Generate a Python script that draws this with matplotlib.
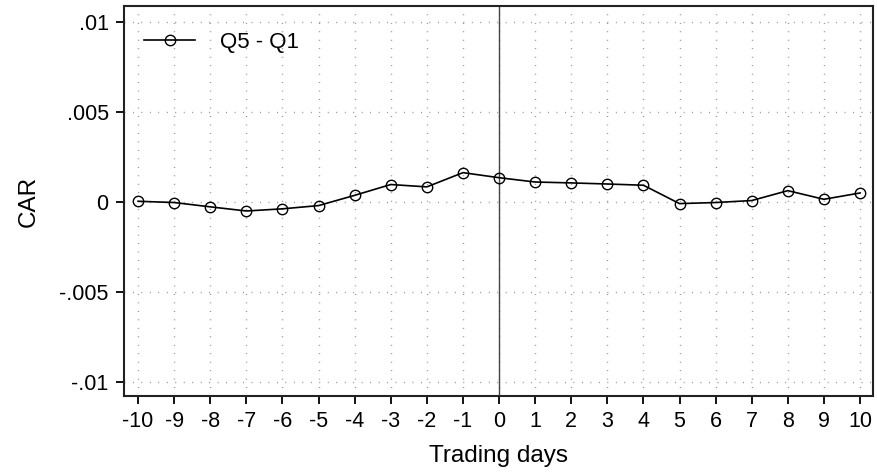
import matplotlib
matplotlib.use("Agg")
import matplotlib.pyplot as plt

plt.rcParams['font.family'] = ['Liberation Sans', 'DejaVu Sans']

days = list(range(-10, 11))
car = [0.00004, -0.00003, -0.00027, -0.0005, -0.00038, -0.0002, 0.00037, 0.00097,
       0.00084, 0.00163, 0.00135, 0.00111, 0.00106, 0.00100, 0.00093, -0.00009,
       -0.00003, 0.00008, 0.00063, 0.00015, 0.0005]
yticks = [-0.01, -0.005, 0, 0.005, 0.01]
ytick_labels = ['-.01', '-.005', '0', '.005', '.01']
series_label = 'Q5 - Q1'

fig = plt.figure(figsize=(8.77, 4.74), dpi=100)
ax = fig.add_axes([124/877, 1-396/474, (873-124)/877, (396-6)/474])

ax.set_xlim(-10.39, 10.36)
ax.set_ylim(-0.01078, 0.01089)

grid_style = dict(color='#808080', linewidth=1.0, linestyle=(0, (0.6, 5.5)), zorder=0)
for x in days:
    ax.axvline(x, **grid_style)
for y in yticks:
    ax.axhline(y, **grid_style)

ax.axvline(0, color='#444444', linewidth=1.0, zorder=1)

ax.plot(days, car, color='black', linewidth=1.2, marker='o', markersize=7.5,
        markerfacecolor='none', markeredgecolor='black', markeredgewidth=1.0,
        label=series_label, zorder=3)

ax.set_xticks(days)
ax.set_xticklabels([str(d) for d in days])
ax.set_yticks(yticks)
ax.set_yticklabels(ytick_labels)
ax.tick_params(axis='both', direction='out', length=6, width=1.3, labelsize=15.5,
               colors='black', pad=5)

for s in ax.spines.values():
    s.set_linewidth(1.5)
    s.set_color('#222222')

ax.set_xlabel('Trading days', fontsize=17.5, labelpad=9)
ax.set_ylabel('CAR', fontsize=17.5, labelpad=14)

leg = ax.legend(loc='upper left', frameon=False, fontsize=16, handlelength=2.3,
                bbox_to_anchor=(0.0, 0.985), borderaxespad=0.5, handletextpad=1.1)

fig.savefig('out.png', dpi=100)
